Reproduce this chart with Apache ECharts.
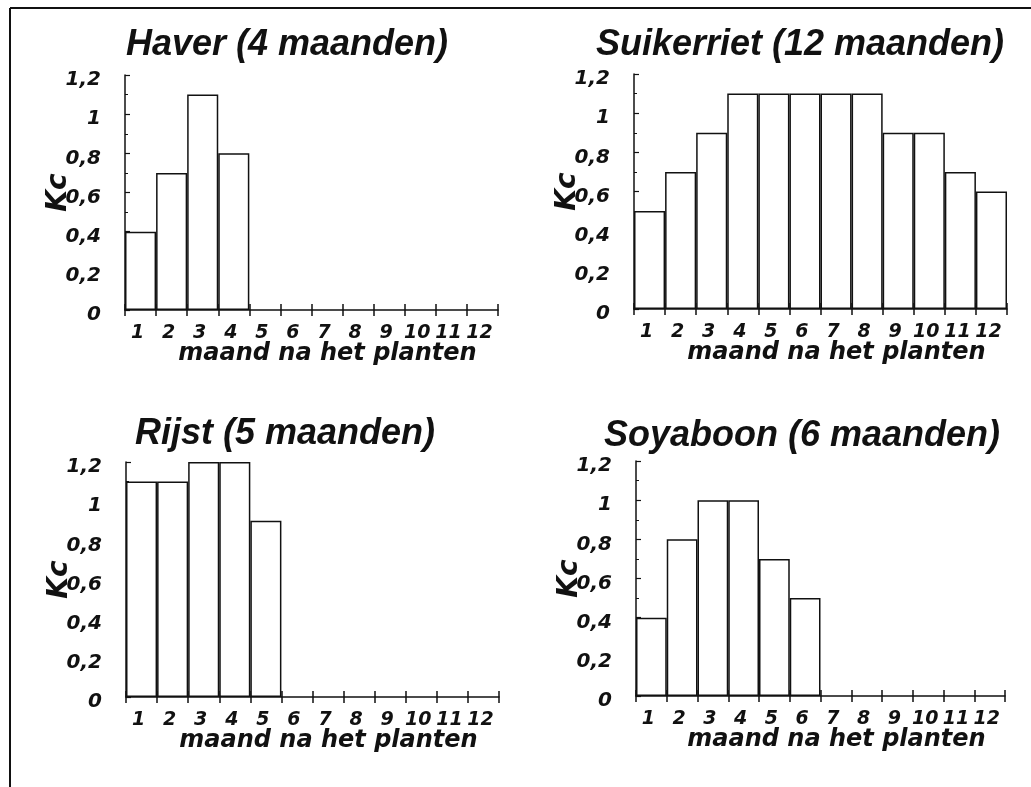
<!DOCTYPE html>
<html>
<head>
<meta charset="utf-8">
<script src="https://cdn.jsdelivr.net/npm/echarts@6/dist/echarts.min.js"></script>
<style>
  html, body { margin: 0; padding: 0; background: #fff; }
  #chart { width: 1031px; height: 787px; }
</style>
</head>
<body>
<div id="chart"></div>
<script>
// Kc per month after planting, for four crops
const months = ['1', '2', '3', '4', '5', '6', '7', '8', '9', '10', '11', '12'];
const yTicks = [0, 0.2, 0.4, 0.6, 0.8, 1, 1.2];

const titles = ['Haver (4 maanden)', 'Suikerriet (12 maanden)', 'Rijst (5 maanden)', 'Soyaboon (6 maanden)'];
const haver = [0.4, 0.7, 1.1, 0.8];
const suikerriet = [0.5, 0.7, 0.9, 1.1, 1.1, 1.1, 1.1, 1.1, 0.9, 0.9, 0.7, 0.6];
const rijst = [1.1, 1.1, 1.2, 1.2, 0.9];
const soyaboon = [0.4, 0.8, 1.0, 1.0, 0.7, 0.5];

const xName = 'maand na het planten';
const yName = 'Kc';

const panelValues = [haver, suikerriet, rijst, soyaboon];

// panel layout: plot area in pixels, title centre
const panels = [
  { left: 125, top: 75, width: 373, height: 235, tx: 287, ty: 45 },
  { left: 634, top: 74, width: 373, height: 235, tx: 800, ty: 45 },
  { left: 126, top: 462, width: 373, height: 235, tx: 285, ty: 434 },
  { left: 636, top: 461, width: 369, height: 235, tx: 802, ty: 436 }
];

const INK = '#111';
const FONT = '"DejaVu Sans", sans-serif';

const fmt = v => (+v.toFixed(1)).toString().replace('.', ',');

const option = {
  backgroundColor: '#fff',
  animation: false,
  title: panels.map((p, i) => ({
    text: titles[i],
    left: p.tx,
    top: p.ty - 18,
    textAlign: 'center',
    padding: 0,
    textStyle: {
      fontFamily: '"Liberation Sans", Arial, sans-serif',
      fontStyle: 'italic',
      fontWeight: 'bold',
      fontSize: 36,
      color: INK
    }
  })),
  grid: panels.map(p => ({ left: p.left, top: p.top, width: p.width, height: p.height })),
  xAxis: [],
  yAxis: [],
  series: [],
  graphic: [
    // figure frame: top and left edges
    { type: 'line', shape: { x1: 10, y1: 8, x2: 1031, y2: 8 }, style: { stroke: INK, lineWidth: 2 } },
    { type: 'line', shape: { x1: 10, y1: 8, x2: 10, y2: 787 }, style: { stroke: INK, lineWidth: 2 } }
  ]
};

panels.forEach((p, i) => {
  // main category axis with labels and outward ticks
  option.xAxis.push({
    type: 'category',
    gridIndex: i,
    position: 'bottom',
    data: months,
    boundaryGap: true,
    name: xName,
    nameLocation: 'middle',
    nameGap: 32,
    nameMoveOverlap: false,
    nameTextStyle: {
      fontFamily: FONT, fontStyle: 'italic', fontWeight: 'bold', fontSize: 24, color: INK,
      padding: [0, 0, 0, 32]
    },
    axisLine: { show: true, lineStyle: { color: INK, width: 1.5 } },
    axisTick: { show: true, inside: false, length: 6, lineStyle: { color: INK, width: 1.5 } },
    axisLabel: {
      margin: 14, fontFamily: FONT, fontStyle: 'italic', fontWeight: 'bold', fontSize: 19, color: INK,
      interval: 0, padding: [0, 6, 0, 0]
    },
    splitLine: { show: false }
  });
  // companion axis on the same baseline giving the inward half of each tick
  option.xAxis.push({
    type: 'category',
    gridIndex: i,
    position: 'bottom',
    data: months,
    boundaryGap: true,
    axisLine: { show: false },
    axisTick: { show: true, inside: true, length: 6, lineStyle: { color: INK, width: 1.5 } },
    axisLabel: { show: false },
    splitLine: { show: false }
  });
  option.yAxis.push({
    type: 'value',
    gridIndex: i,
    min: yTicks[0],
    max: yTicks[yTicks.length - 1],
    interval: yTicks[1] - yTicks[0],
    name: yName,
    nameLocation: 'middle',
    nameGap: 52,
    nameRotate: 90,
    nameMoveOverlap: false,
    nameTextStyle: { fontFamily: FONT, fontStyle: 'italic', fontWeight: 'bold', fontSize: 28, color: INK },
    axisLine: { show: true, lineStyle: { color: INK, width: 1.5 } },
    axisTick: { show: true, inside: true, length: 5, lineStyle: { color: INK, width: 1.2 } },
    minorTick: { show: true, splitNumber: 2, length: 3, lineStyle: { color: INK, width: 1 } },
    axisLabel: {
      margin: 24, formatter: fmt, verticalAlign: 'top', lineHeight: 10,
      fontFamily: FONT, fontStyle: 'italic', fontWeight: 'bold', fontSize: 20, color: INK
    },
    splitLine: { show: false }
  });
  option.series.push({
    type: 'bar',
    xAxisIndex: i * 2,
    yAxisIndex: i,
    data: panelValues[i],
    barCategoryGap: '0%',
    barGap: '0%',
    itemStyle: { color: '#fff', borderColor: INK, borderWidth: 1.5 },
    silent: true
  });
});

const chart = echarts.init(document.getElementById('chart'), null, { renderer: 'canvas' });
chart.setOption(option);
</script>
</body>
</html>
